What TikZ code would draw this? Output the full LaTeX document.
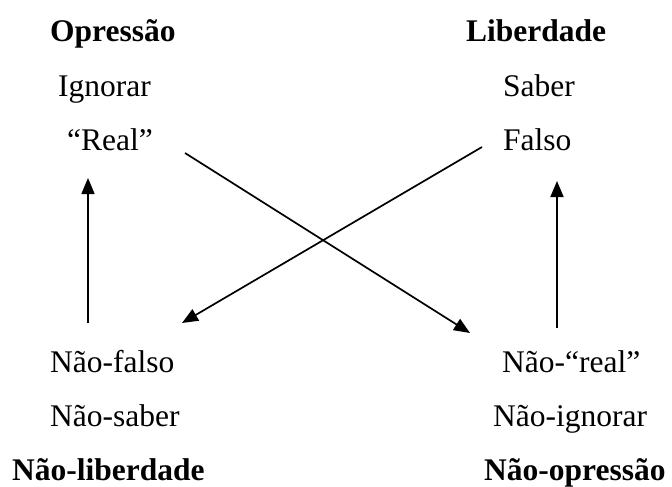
\documentclass[tikz,border=0pt]{standalone}
\usepackage{fontspec}
\setmainfont{Liberation Serif}
\usetikzlibrary{arrows.meta}
\begin{document}
\begin{tikzpicture}[x=1pt,y=-1pt,
  lbl/.style={anchor=base west,inner sep=0pt,font=\fontsize{31.5}{36}\selectfont},
  ttl/.style={lbl,font=\fontsize{31.5}{36}\selectfont\bfseries},
  arr/.style={line width=1.7pt,-{Triangle[length=16pt,width=13pt]}}]
\useasboundingbox[fill=white] (0,0) rectangle (672,487);
\node[ttl] (opr) at (50,41.5) {Opressão};
\node[ttl] (lib) at (466,41.5) {Liberdade};
\node[lbl] (ign) at (58,96) {Ignorar};
\node[lbl] (sab) at (503,96) {Saber};
\node[lbl] (real) at (67,150) {“Real”};
\node[lbl] (fal) at (503,150) {Falso};
\node[lbl] (nfal) at (50,372) {Não-falso};
\node[lbl] (nsab) at (50,426) {Não-saber};
\node[ttl] (nlib) at (12,480) {Não-liberdade};
\node[lbl] (nreal) at (502,372) {Não-“real”};
\node[lbl] (nign) at (493,426) {Não-ignorar};
\node[ttl] (nopr) at (484,480) {Não-opressão};
\coordinate (lvb) at (88,323);
\coordinate (lvt) at (88,178);
\coordinate (rvb) at (557,328);
\coordinate (rvt) at (557,181);
\coordinate (d1s) at (185,153);
\coordinate (d1e) at (470,333);
\coordinate (d2s) at (482,147);
\coordinate (d2e) at (182,323);
\draw[arr] (lvb) -- (lvt);
\draw[arr] (rvb) -- (rvt);
\draw[arr] (d1s) -- (d1e);
\draw[arr] (d2s) -- (d2e);
\end{tikzpicture}
\end{document}
